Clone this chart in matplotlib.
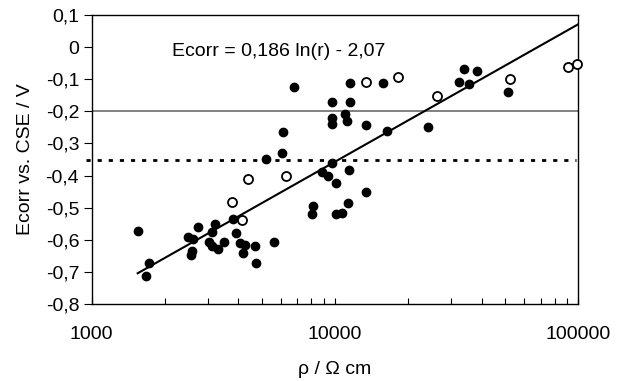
import numpy as np
import matplotlib
matplotlib.use("Agg")
import matplotlib.pyplot as plt
from matplotlib.ticker import FixedLocator, FuncFormatter, LogLocator, NullFormatter

plt.rcParams['font.family'] = ['Liberation Sans', 'DejaVu Sans']

# filled points (resistivity in Ohm cm, Ecorr in V)
rho_filled = [1546, 1725, 1667, 2481, 2742, 2618, 2590, 2552, 3212, 3111,
              3043, 3111, 3313, 3500, 3820, 3917, 4073, 4267, 4181, 4690,
              4715, 5610, 5199, 6040, 6095, 6808, 8090, 8020, 8815, 9331,
              9684, 10090, 10090, 10720, 11270, 11430, 13400, 9684, 11535, 9684,
              9684, 10990, 11160, 13400, 11535, 15820, 16300, 24040, 32430, 33960,
              35660, 38180, 51240]
e_filled = [-0.573, -0.673, -0.713, -0.590, -0.561, -0.599, -0.634, -0.647, -0.551, -0.575,
            -0.606, -0.619, -0.630, -0.606, -0.536, -0.578, -0.609, -0.616, -0.642, -0.619,
            -0.673, -0.608, -0.348, -0.331, -0.263, -0.125, -0.495, -0.521, -0.388, -0.401,
            -0.362, -0.424, -0.521, -0.518, -0.486, -0.383, -0.450, -0.171, -0.171, -0.220,
            -0.240, -0.209, -0.230, -0.243, -0.111, -0.111, -0.261, -0.248, -0.110, -0.068,
            -0.115, -0.074, -0.139]

# open points
rho_open = [3785, 4159, 4375, 6290, 13400, 18200, 26200, 52360, 90970, 98400]
e_open = [-0.481, -0.538, -0.411, -0.401, -0.108, -0.092, -0.151, -0.099, -0.061, -0.053]

# fit Ecorr = a ln(r) + b
fit_a = 0.186
fit_b = -2.07
fit_range = [1545, 100000]

limit_solid = -0.2
limit_dotted = -0.35

fig = plt.figure(figsize=(6.24, 3.81), dpi=100)
ax = fig.add_axes([0.147, 0.2021, 0.7798, 0.7585])

r = np.array(fit_range, dtype=float)
ax.plot(r, fit_a * np.log(r) + fit_b, color='black', lw=1.5, zorder=2)

ax.axhline(limit_solid, color='#808080', lw=1.4, zorder=1)
ax.axhline(limit_dotted, xmin=-0.012, xmax=0.995, color='black', lw=2,
           linestyle=(0, (1.5, 2.5)), clip_on=False, zorder=1)

ax.plot(rho_filled, e_filled, 'o', color='black', markersize=6, zorder=3)
ax.plot(rho_open, e_open, 'o', markerfacecolor='white', markeredgecolor='black',
        markeredgewidth=1.3, markersize=6.5, zorder=3, clip_on=False)

ax.set_xscale('log')
ax.set_xlim(1000, 100000)
ax.set_ylim(-0.8, 0.1)

ax.xaxis.set_major_locator(FixedLocator([1000, 10000, 100000]))
ax.xaxis.set_minor_locator(LogLocator(base=10, subs=np.arange(2, 10)))
ax.xaxis.set_minor_formatter(NullFormatter())
ax.xaxis.set_major_formatter(FuncFormatter(lambda v, p: '%d' % v))
ax.tick_params(axis='x', which='both', direction='in', length=4.5, width=0.8,
               labelsize=14, pad=16)

ax.set_yticks(np.round(np.arange(-0.8, 0.15, 0.1), 1))
ax.yaxis.set_major_formatter(FuncFormatter(
    lambda v, p: '0' if abs(v) < 1e-9 else ('%.1f' % v).replace('.', ',')))
ax.tick_params(axis='y', direction='out', length=6, width=0.8, labelsize=14, pad=3)

for s in ax.spines.values():
    s.set_linewidth(1)

ax.text(0.165, 0.873, 'Ecorr = 0,186 ln(r) - 2,07', transform=ax.transAxes,
        fontsize=14, va='center', ha='left')

ax.set_xlabel('ρ / Ω cm', fontsize=14, labelpad=13)
ax.set_ylabel('Ecorr vs. CSE / V', fontsize=14, labelpad=8)

fig.savefig('out.png', dpi=100)
